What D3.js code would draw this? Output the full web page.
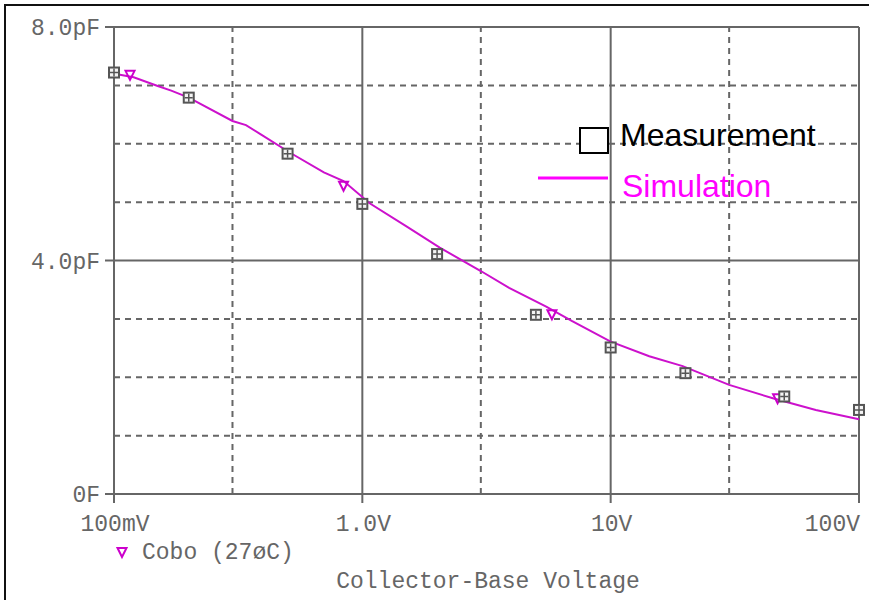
<!DOCTYPE html>
<html>
<head>
<meta charset="utf-8">
<script src="https://cdn.jsdelivr.net/npm/d3@7"></script>
<style>
  body { margin: 0; background: #fff; }
  svg { display: block; }
  .ax text { font-family: "Liberation Mono", "Courier New", monospace; font-size: 23px; fill: #666; }
</style>
</head>
<body>
<svg width="869" height="600"></svg>
<script>
// measured points (V, pF)
var measV = [0.1, 0.2, 0.5, 1, 2, 5, 10, 20, 50, 100];
var measC = [7.22, 6.79, 5.83, 4.97, 4.11, 3.07, 2.51, 2.07, 1.67, 1.44];

// simulated curve
var simV = [0.103, 0.12, 0.15, 0.17, 0.2, 0.3, 0.34, 0.39, 0.51, 0.7, 0.84, 1.07, 1.5, 2.05, 3.0, 3.9, 5.5, 7.0, 10, 14.3, 19.5, 30, 45, 67, 100];
var simC = [7.19, 7.14, 6.99, 6.91, 6.79, 6.39, 6.32, 6.16, 5.85, 5.51, 5.36, 4.98, 4.59, 4.22, 3.82, 3.53, 3.21, 2.96, 2.61, 2.36, 2.19, 1.87, 1.64, 1.44, 1.28];

// simulation markers
var markV = [0.116, 0.84, 5.8, 47];
var markC = [7.18, 5.28, 3.08, 1.64];

var yTicks = [0, 4, 8];
var yTickLabels = ["0F", "4.0pF", "8.0pF"];
var yMinor = [1, 2, 3, 5, 6, 7];
var xTicks = [0.1, 1, 10, 100];
var xTickLabels = ["100mV", "1.0V", "10V", "100V"];
var xMinor = [0.3, 3, 30];

var svg = d3.select("svg");
var grey = "#666";

var x = d3.scaleLog().domain([0.1, 100]).range([114, 859]);
var y = d3.scaleLinear().domain([0, 8]).range([494, 27]);

// outer border
svg.append("path").attr("d", "M5,600 V5 H869").attr("fill", "none").attr("stroke", "#111").attr("stroke-width", 2);

// dashed grid
svg.selectAll(".ym").data(yMinor).enter().append("line")
    .attr("x1", x.range()[0]).attr("x2", x.range()[1])
    .attr("y1", d => y(d)).attr("y2", d => y(d))
    .attr("stroke", grey).attr("stroke-width", 2).attr("stroke-dasharray", "6,5");
svg.selectAll(".xm").data(xMinor).enter().append("line")
    .attr("x1", d => x(d)).attr("x2", d => x(d))
    .attr("y1", y.range()[0]).attr("y2", y.range()[1])
    .attr("stroke", grey).attr("stroke-width", 2).attr("stroke-dasharray", "6,5");

// solid grid
svg.selectAll(".yM").data(yTicks).enter().append("line")
    .attr("x1", x.range()[0] - 9).attr("x2", x.range()[1])
    .attr("y1", d => y(d)).attr("y2", d => y(d))
    .attr("stroke", grey).attr("stroke-width", 2);
svg.selectAll(".xM").data(xTicks).enter().append("line")
    .attr("x1", d => x(d)).attr("x2", d => x(d))
    .attr("y1", y.range()[0] + 9).attr("y2", y.range()[1])
    .attr("stroke", grey).attr("stroke-width", 2);

// tick labels
var ax = svg.append("g").attr("class", "ax");
ax.selectAll(".yl").data(yTicks).enter().append("text")
    .attr("x", 100).attr("y", d => y(d)).attr("dy", "0.35em")
    .attr("text-anchor", "end")
    .text((d, i) => yTickLabels[i]);
ax.selectAll(".xl").data(xTicks).enter().append("text")
    .attr("x", d => x(d) + 1)
    .attr("y", 531)
    .attr("text-anchor", (d, i) => i == xTicks.length - 1 ? "end" : "middle")
    .text((d, i) => xTickLabels[i]);
ax.append("text").attr("x", 488).attr("y", 588).attr("text-anchor", "middle")
    .text("Collector-Base Voltage");
ax.append("text").attr("x", 142).attr("y", 559).text("Cobo (27øC)");

// triangle marker
function tri(g, cx, cy) {
    g.append("path")
        .attr("d", "M" + (cx - 4.5) + "," + (cy - 4) + " H" + (cx + 4.5) + " L" + cx + "," + (cy + 5) + " Z")
        .attr("fill", "none").attr("stroke", "#cc00cc").attr("stroke-width", 2);
}
tri(svg, 122, 552);

// simulation curve
var sim = simV.map((v, i) => [v, simC[i]]);
svg.append("path").datum(sim)
    .attr("d", d3.line().x(d => x(d[0])).y(d => y(d[1])))
    .attr("fill", "none").attr("stroke", "#cc11cc").attr("stroke-width", 2);

markV.forEach((v, i) => tri(svg, x(v), y(markC[i])));

// measurement markers
var mg = svg.selectAll(".mm").data(measV).enter().append("g")
    .attr("transform", (d, i) => "translate(" + x(d) + "," + y(measC[i]) + ")");
mg.append("rect").attr("x", -5).attr("y", -5).attr("width", 10).attr("height", 10)
    .attr("fill", "#f4f4f4").attr("stroke", "#555").attr("stroke-width", 2);
mg.append("path").attr("d", "M-4,0 H4 M0,-4 V4").attr("stroke", "#555").attr("stroke-width", 1.5);

// legend
svg.append("rect").attr("x", 580).attr("y", 128).attr("width", 28).attr("height", 25)
    .attr("fill", "#fff").attr("stroke", "#000").attr("stroke-width", 2);
svg.append("text").attr("x", 620).attr("y", 146)
    .attr("font-family", "Liberation Sans, Arial, sans-serif").attr("font-size", 32)
    .attr("fill", "#000").text("Measurement");
svg.append("line").attr("x1", 538).attr("x2", 608).attr("y1", 178).attr("y2", 178)
    .attr("stroke", "#ff00ff").attr("stroke-width", 3);
svg.append("text").attr("x", 622).attr("y", 197)
    .attr("font-family", "Liberation Sans, Arial, sans-serif").attr("font-size", 32)
    .attr("fill", "#ff00ff").text("Simulation");
</script>
</body>
</html>
